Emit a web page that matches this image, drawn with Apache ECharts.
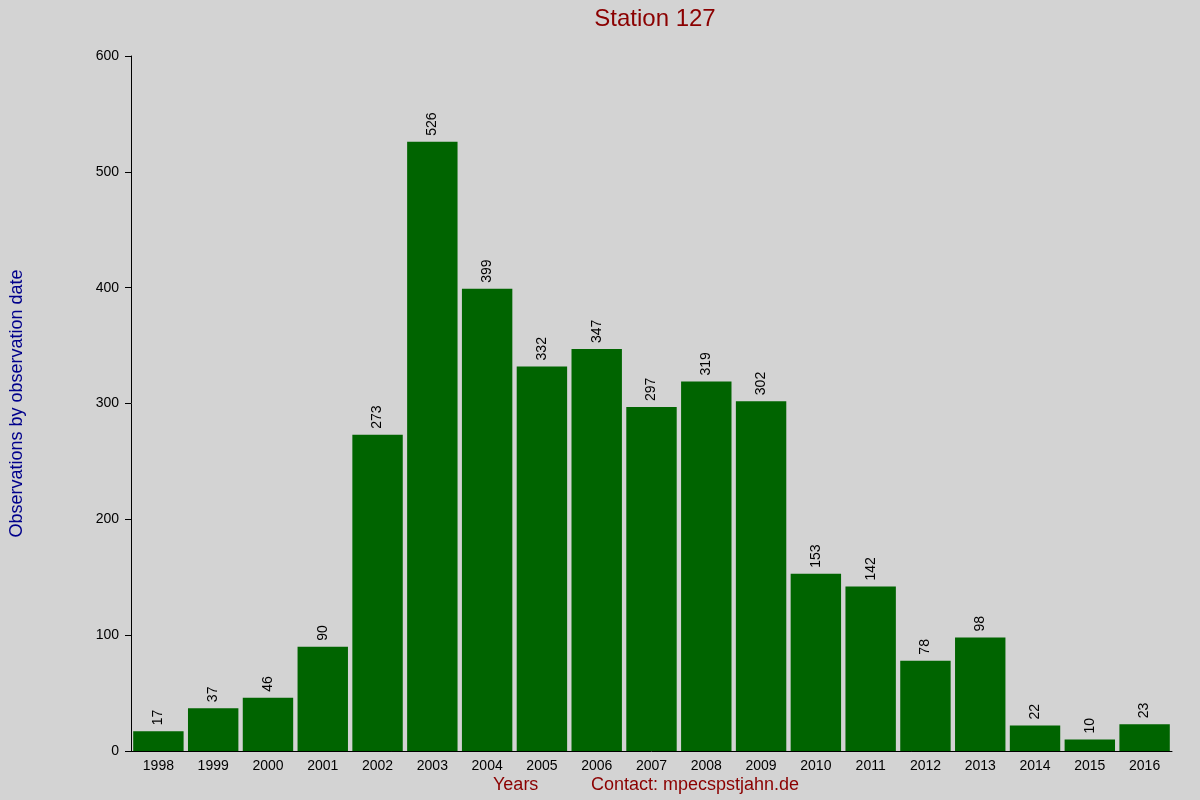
<!DOCTYPE html>
<html><head><meta charset="utf-8">
<script src="https://cdn.jsdelivr.net/npm/echarts@6/dist/echarts.min.js"></script>
<style>html,body{margin:0;background:#d3d3d3}#c{width:1200px;height:800px}</style>
</head><body><div id="c"></div>
<script>
const years = ['1998','1999','2000','2001','2002','2003','2004','2005','2006','2007','2008','2009','2010','2011','2012','2013','2014','2015','2016'];
const counts = [17,37,46,90,273,526,399,332,347,297,319,302,153,142,78,98,22,10,23];
const chart = echarts.init(document.getElementById('c'));
chart.setOption({
  backgroundColor:'#d3d3d3',
  animation:false,
  title:{text:'Station 127',left:650,top:2,textAlign:'center',textStyle:{color:'#8b0000',fontSize:24,fontWeight:'normal',fontFamily:'Liberation Sans'}},
  graphic:[
    {type:'text',left:493,top:776,style:{text:'Years',fill:'#8b0000',font:'18px Liberation Sans'}},
    {type:'text',left:591,top:776,style:{text:'Contact: mpecspstjahn.de',fill:'#8b0000',font:'18px Liberation Sans'}}
  ],
  grid:{left:127,right:28,top:56,bottom:49},
  xAxis:{type:'category',data:years,axisLine:{lineStyle:{color:'#000'}},axisTick:{show:false},
    axisLabel:{color:'#000',fontSize:14,fontFamily:'Liberation Sans',margin:8}},
  yAxis:{type:'value',min:0,max:600,interval:100,name:'Observations by observation date',nameLocation:'middle',nameGap:105,
    nameTextStyle:{color:'#00008b',fontSize:18,fontFamily:'Liberation Sans'},
    axisLine:{show:true,lineStyle:{color:'#000'}},axisTick:{show:true,length:6,lineStyle:{color:'#000'}},
    splitLine:{show:false},axisLabel:{color:'#000',fontSize:14,fontFamily:'Liberation Sans',margin:12}},
  series:[{type:'bar',data:counts,barCategoryGap:'8%',itemStyle:{color:'#006400'},
    label:{show:true,position:'top',rotate:90,align:'left',verticalAlign:'middle',distance:6,color:'#000',fontSize:14,fontFamily:'Liberation Sans'}}]
});
</script></body></html>
